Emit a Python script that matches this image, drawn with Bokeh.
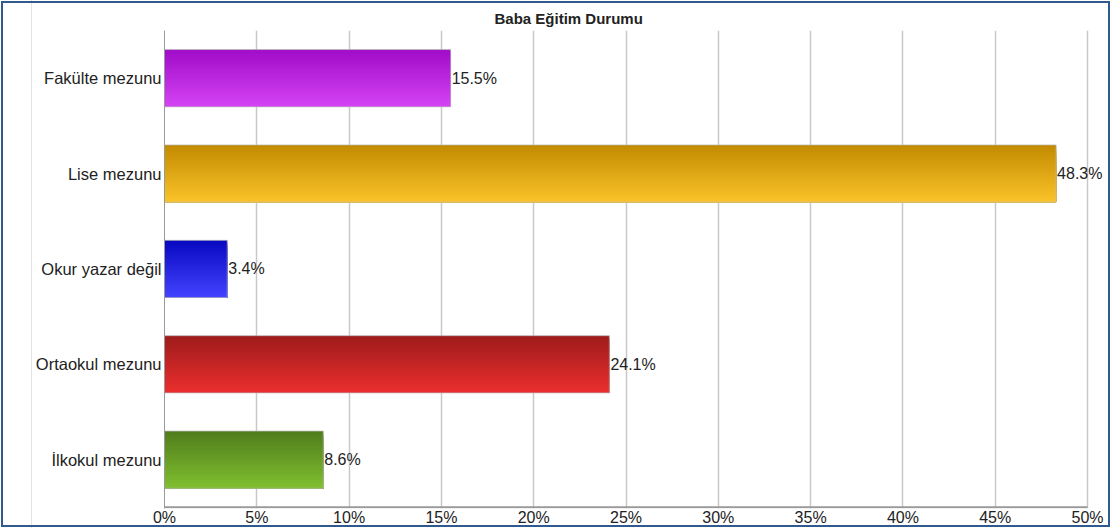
from bokeh.plotting import figure
from bokeh.models import FixedTicker, Range1d, ColumnDataSource, CustomJSTickFormatter, LabelSet
from bokeh.embed import file_html
from bokeh.resources import INLINE
from bokeh.core.properties import value

# Data (top to bottom as shown in the chart)
categories = ["Fakülte mezunu", "Lise mezunu", "Okur yazar değil", "Ortaokul mezunu", "İlkokul mezunu"]
values = [15.5, 48.3, 3.4, 24.1, 8.6]
x_ticks = [0, 5, 10, 15, 20, 25, 30, 35, 40, 45, 50]
title_text = "Baba Eğitim Durumu"

# Gradient colours (top, bottom) per bar
top_colors = ["#a00cc8", "#c28a00", "#0808c0", "#9e1c1c", "#507c1c"]
bottom_colors = ["#d444f4", "#fbc42a", "#4444ff", "#ec2e2e", "#80c030"]

n = len(categories)
ypos = [n - 1 - i for i in range(n)]  # first category at top

BAR_H = 0.6
STRIPS = 40

def hex2rgb(h):
    h = h.lstrip("#")
    return tuple(int(h[i:i + 2], 16) for i in (0, 2, 4))

def lerp(c1, c2, t):
    a, b = hex2rgb(c1), hex2rgb(c2)
    return "#%02x%02x%02x" % tuple(int(round(a[j] + (b[j] - a[j]) * t)) for j in range(3))

ql, qr, qt, qb, qc = [], [], [], [], []
sh = BAR_H / STRIPS
for i in range(n):
    for k in range(STRIPS):
        t = (k + 0.5) / STRIPS
        ql.append(0)
        qr.append(values[i])
        qt.append(ypos[i] + BAR_H / 2 - k * sh)
        qb.append(ypos[i] - BAR_H / 2)
        qc.append(lerp(top_colors[i], bottom_colors[i], t))

W, H = 1111, 528
LEFT = 164
# the 0..50 scale spans 923 px; the frame continues to the right edge so labels are not clipped
x_end = x_ticks[-1] * (W - LEFT) / 923.0
y_base = -0.5

p = figure(
    width=W, height=H,
    x_range=Range1d(0, x_end), y_range=Range1d(y_base - 0.012, n - 0.5),
    output_backend="svg", toolbar_location=None,
    min_border_left=LEFT, min_border_right=0, min_border_top=30, min_border_bottom=14,
    title=title_text,
)
p.styles = {
    "outline": "2.5px solid #2e5a8e",
    "outline-offset": "-3px",
    "background": "linear-gradient(to right, white 31px, #e4e4e4 31px, #e4e4e4 32px, white 32px)",
}

p.title.align = "left"
p.title.offset = 330
p.title.text_font = "Liberation Sans"
p.title.text_font_size = "15px"
p.title.text_font_style = "bold"
p.title.text_color = "#222222"
p.title.standoff = 8

p.outline_line_color = None
p.background_fill_color = None
p.background_fill_alpha = 0
p.border_fill_color = None
p.border_fill_alpha = 0

qsrc = ColumnDataSource(dict(l=ql, r=qr, t=qt, b=qb, c=qc))
p.quad(left="l", right="r", top="t", bottom="b", fill_color="c", line_color=None, source=qsrc)

src = ColumnDataSource(dict(y=ypos, x=values, lab=["%.1f%%" % v for v in values]))
p.hbar(y="y", left=0, right="x", height=BAR_H, fill_color=None, line_color="#bbbbbb",
       line_alpha=0.7, line_width=1, source=src)

labels = LabelSet(x="x", y="y", text="lab", source=src, x_offset=1, text_align="left",
                  text_baseline="middle", text_font=value("Liberation Sans"),
                  text_font_size=value("16px"), text_color=value("#222222"))
p.add_layout(labels)

# Axes
p.xaxis.ticker = FixedTicker(ticks=x_ticks)
p.xaxis.formatter = CustomJSTickFormatter(code="return tick + '%';")
p.xaxis.major_label_text_font = "Liberation Sans"
p.xaxis.major_label_text_font_size = "16px"
p.xaxis.major_label_text_color = "#222222"
p.xaxis.axis_line_color = None
p.xaxis.major_tick_line_color = None
p.xaxis.minor_tick_line_color = None
p.xaxis.major_tick_out = 0
p.xaxis.major_tick_in = 0
p.xaxis.minor_tick_out = 0
p.xaxis.major_label_standoff = 0

# x-axis baseline only across the 0..50 scale
p.segment(x0=[x_ticks[0]], x1=[x_ticks[-1]], y0=[y_base], y1=[y_base], line_color="#999999", line_width=2)

p.yaxis.ticker = FixedTicker(ticks=ypos)
p.yaxis.major_label_overrides = {ypos[i]: categories[i] for i in range(n)}
p.yaxis.major_label_text_font = "Liberation Sans"
p.yaxis.major_label_text_font_size = "16.5px"
p.yaxis.major_label_text_color = "#222222"
p.yaxis.axis_line_color = "#999999"
p.yaxis.major_tick_line_color = None
p.yaxis.minor_tick_line_color = None
p.yaxis.major_tick_out = 0
p.yaxis.major_tick_in = 0
p.yaxis.minor_tick_out = 0
p.yaxis.major_label_standoff = 3

p.xgrid.grid_line_color = "#c8c8c8"
p.xgrid.grid_line_width = 1.5
p.ygrid.grid_line_color = None

open("out.html", "w").write(file_html(p, INLINE))
